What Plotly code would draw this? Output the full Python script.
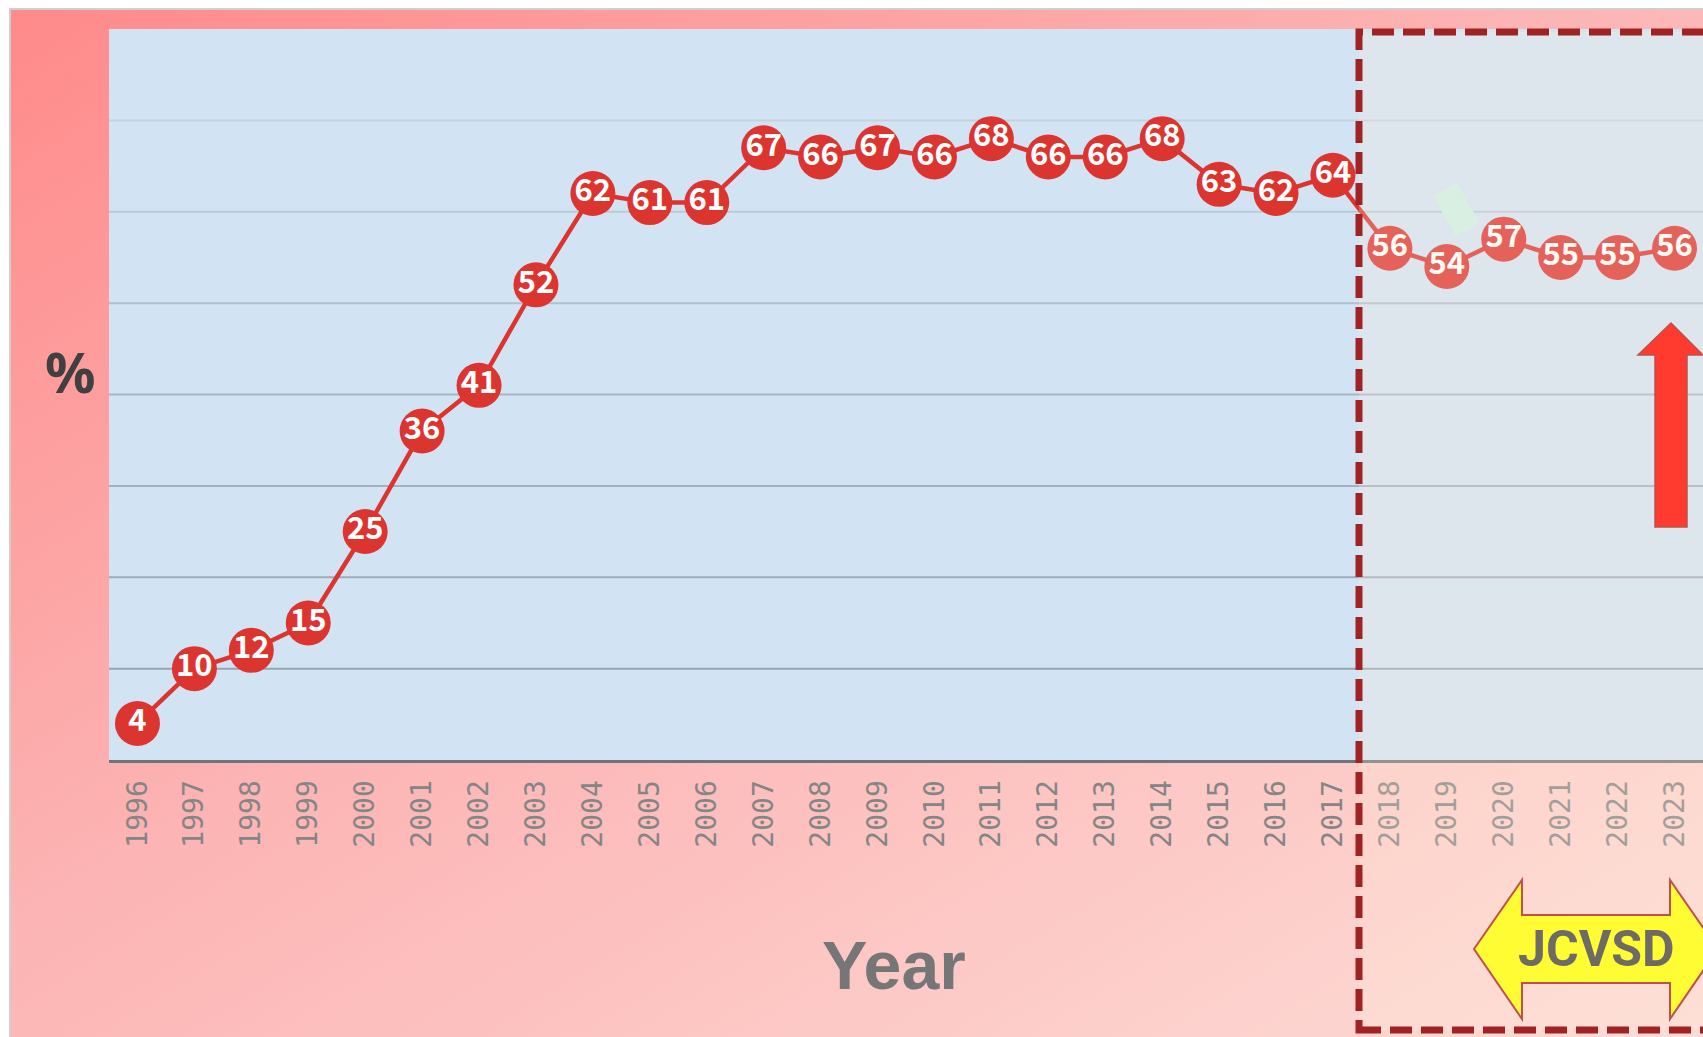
import base64
import plotly.graph_objects as go

# ---------------- data ----------------
years = [str(y) for y in range(1996, 2024)]
values = [4, 10, 12, 15, 25, 36, 41, 52, 62, 61, 61, 67, 66, 67, 66, 68, 66, 66, 68,
          63, 62, 64, 56, 54, 57, 55, 55, 56]
grid_values = [10, 20, 30, 40, 50, 60, 70]
grid_colors = ["#98A4B2", "#9EAAB8", "#A4B0BE", "#AAB6C4", "#B2BECA", "#BCC8D4", "#C6D2DE"]
y_range = [0, 80]

# ---------------- geometry helpers ----------------
W, H = 1703, 1037
L, R, T, B = 109, 0, 29, 277
PW, PH = W - L - R, H - T - B


def px(x):
    return (x - L) / PW


def py(y):
    return (H - B - y) / PH


def path(points):
    return "M " + " L ".join(f"{px(a):.5f},{py(b):.5f}" for a, b in points) + " Z"


# ---------------- background gradient ----------------
svg = ('<svg xmlns="http://www.w3.org/2000/svg" width="1692" height="1027" '
       'preserveAspectRatio="none"><defs><linearGradient id="g" x1="0" y1="0" x2="1" y2="1">'
       '<stop offset="0" stop-color="#FF8A8A"/><stop offset="0.45" stop-color="#FCB4B4"/>'
       '<stop offset="1" stop-color="#FDDCD6"/></linearGradient></defs>'
       '<rect width="100%" height="100%" fill="url(#g)"/></svg>')
src = "data:image/svg+xml;base64," + base64.b64encode(svg.encode()).decode()

fig = go.Figure()
fig.add_trace(go.Scatter(
    x=years, y=values, mode="lines+markers+text",
    line=dict(color="#DC3530", width=4.5),
    marker=dict(size=45, color="#DC3530"),
    text=[str(v) for v in values], textposition="middle center",
    textfont=dict(family="Noto Sans CJK JP", size=31, color="white", weight="bold"),
    cliponaxis=False, hoverinfo="skip", showlegend=False,
))

shapes = []
# outer grey border
shapes.append(dict(type="rect", xref="paper", yref="paper",
                   x0=px(10), x1=px(1720), y0=py(9), y1=py(1050),
                   line=dict(color="#CFCFCF", width=2), fillcolor="rgba(0,0,0,0)", layer="below"))
# plot area background
shapes.append(dict(type="rect", xref="paper", yref="paper", x0=0, x1=1, y0=0, y1=1,
                   fillcolor="#D2E4F4", line=dict(width=0), layer="below"))
# gridlines
for v, c in zip(grid_values, grid_colors):
    shapes.append(dict(type="line", xref="paper", yref="y", x0=0, x1=1, y0=v, y1=v,
                       line=dict(color=c, width=2), layer="below"))
# tinted dashed box
shapes.append(dict(type="rect", xref="paper", yref="paper",
                   x0=px(1359), x1=px(1730), y0=py(1030), y1=py(32),
                   fillcolor="rgba(255,236,216,0.25)",
                   line=dict(color="#A02222", width=7, dash="22px,9px"), layer="above"))
# small green patch
shapes.append(dict(type="path", xref="paper", yref="paper",
                   path=path([(1433, 196), (1457, 183), (1480, 223), (1456, 237)]),
                   fillcolor="#D9EFE2", line=dict(width=0), layer="above"))
# red up arrow
shapes.append(dict(type="path", xref="paper", yref="paper",
                   path=path([(1671, 323), (1703, 355), (1687, 355), (1687, 527),
                              (1655, 527), (1655, 355), (1638, 355)]),
                   fillcolor="#FF3B30", line=dict(color="#BE504C", width=1.5), layer="above"))
# JCVSD double arrow
shapes.append(dict(type="path", xref="paper", yref="paper",
                   path=path([(1474, 949), (1522, 880), (1522, 915), (1670, 915), (1670, 880),
                              (1718, 949), (1670, 1019), (1670, 983), (1522, 983), (1522, 1019)]),
                   fillcolor="#FFFC33", line=dict(color="#C0504D", width=2), layer="above"))

annotations = [
    dict(text="%", xref="paper", yref="paper", x=px(70), y=py(371), showarrow=False,
         font=dict(family="Noto Sans", size=56, color="#404040", weight="bold"),
         xanchor="center", yanchor="middle"),
    dict(text="Year", xref="paper", yref="paper", x=px(894), y=py(965), showarrow=False,
         font=dict(family="Liberation Sans", size=68, color="#767676", weight="bold"),
         xanchor="center", yanchor="middle"),
    dict(text="JCVSD", xref="paper", yref="paper", x=px(1596), y=py(949), showarrow=False,
         font=dict(family="Roboto", size=50, color="#6E6A66", weight="bold"),
         xanchor="center", yanchor="middle"),
]

fig.update_layout(
    width=W, height=H,
    margin=dict(l=L, r=R, t=T, b=B, pad=0),
    paper_bgcolor="white", plot_bgcolor="rgba(0,0,0,0)",
    shapes=shapes, annotations=annotations,
    images=[dict(source=src, xref="paper", yref="paper", x=px(11), y=py(10),
                 sizex=(W - 11) / PW, sizey=(H - 10) / PH, sizing="stretch",
                 xanchor="left", yanchor="top", layer="below")],
    xaxis=dict(type="category", range=[-0.5, 27.5], showgrid=False, zeroline=False,
               showline=True, linecolor="#6E747A", linewidth=3, ticks="",
               tickangle=-90, ticklabelstandoff=6,
               tickfont=dict(family="DejaVu Sans Mono", size=28, color="#858585")),
    yaxis=dict(range=y_range, showgrid=False, zeroline=False, showline=False,
               showticklabels=False, ticks=""),
)

fig.write_html("out.html", config={"displayModeBar": False},
               post_script="document.body.style.margin='0';document.body.style.overflow='hidden';")
